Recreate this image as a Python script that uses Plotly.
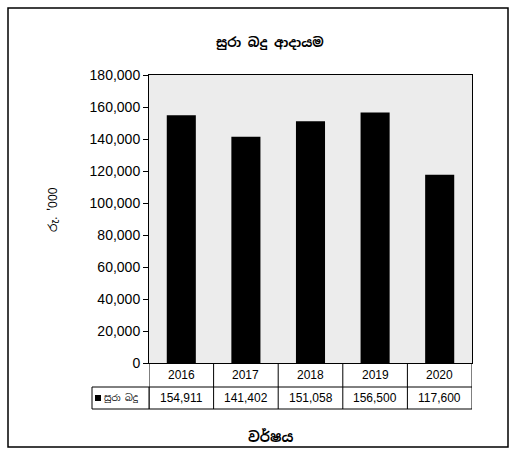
import plotly.graph_objects as go

years = ["2016", "2017", "2018", "2019", "2020"]
revenue = [154911, 141402, 151058, 156500, 117600]
value_labels = ["154,911", "141,402", "151,058", "156,500", "117,600"]
series_name = "සුරා බදු"
title_text = "සුරා බදු ආදායම"
y_title = "රු. '000"
x_title = "වර්ෂය"

FONT = "Liberation Sans, Arial, sans-serif"
SIN = "Noto Sans Sinhala, Liberation Sans, sans-serif"

fig = go.Figure()
fig.add_trace(go.Bar(x=years, y=revenue, name=series_name, width=0.45,
                     marker=dict(color="black", line=dict(width=0)),
                     showlegend=False))

L, R, T, B = 149, 39, 75, 87
W, H = 511, 450
pw, ph = W - L - R, H - T - B

def px_x(p):
    return (p - L) / pw

def px_y(p):
    return (H - B - p) / ph

shapes = []
# table horizontal lines
for yp in [387, 409]:
    shapes.append(dict(type="line", xref="paper", yref="paper", x0=0, x1=1,
                       y0=px_y(yp), y1=px_y(yp), line=dict(color="black", width=1)))
# table vertical lines
for i in range(len(years) + 1):
    shapes.append(dict(type="line", xref="x", yref="paper", x0=i - 0.5, x1=i - 0.5,
                       y0=0, y1=px_y(409), line=dict(color="black", width=1)))
# legend cell
shapes.append(dict(type="rect", xref="paper", yref="paper", x0=px_x(92), x1=0,
                   y0=px_y(409), y1=px_y(387), line=dict(color="black", width=1)))
shapes.append(dict(type="rect", xref="paper", yref="paper", x0=px_x(95), x1=px_x(101),
                   y0=px_y(401), y1=px_y(395), fillcolor="black", line=dict(width=0)))
# outer frame
shapes.append(dict(type="rect", xref="paper", yref="paper", x0=px_x(8), x1=px_x(508),
                   y0=px_y(447), y1=px_y(8), line=dict(color="black", width=1.5)))

numfont = dict(family=FONT, size=12, color="black")
annotations = []
for i, (yr, lab) in enumerate(zip(years, value_labels)):
    annotations.append(dict(x=i, y=px_y(375), xref="x", yref="paper", text=yr,
                            showarrow=False, yanchor="middle", font=numfont))
    annotations.append(dict(x=i, y=px_y(398), xref="x", yref="paper", text=lab,
                            showarrow=False, yanchor="middle", font=numfont))
annotations.append(dict(x=px_x(102), y=px_y(398), xref="paper", yref="paper",
                        text=series_name, showarrow=False, xanchor="left", yanchor="middle",
                        font=dict(family=SIN, size=9, color="black")))
annotations.append(dict(x=px_x(270), y=px_y(42), xref="paper", yref="paper",
                        text="<b>" + title_text + "</b>", showarrow=False, yanchor="middle",
                        font=dict(family=SIN, size=13, color="black")))
annotations.append(dict(x=px_x(270), y=px_y(437), xref="paper", yref="paper",
                        text="<b>" + x_title + "</b>", showarrow=False, yanchor="middle",
                        font=dict(family=SIN, size=14, color="black")))
annotations.append(dict(x=px_x(43), y=px_y(210), xref="paper", yref="paper",
                        text=y_title, showarrow=False, textangle=-90,
                        font=dict(family=SIN, size=12, color="black")))

fig.update_layout(
    width=W, height=H,
    margin=dict(l=L, r=R, t=T, b=B),
    paper_bgcolor="white",
    plot_bgcolor="#ececec",
    font=dict(family=FONT, color="black"),
    shapes=shapes,
    annotations=annotations,
    bargap=0.55,
)
fig.update_xaxes(type="category", range=[-0.5, len(years) - 0.5], showticklabels=False,
                 ticks="", showline=True, linecolor="black", linewidth=1, mirror=True,
                 showgrid=False)
fig.update_yaxes(range=[0, 180000], dtick=20000, tickformat=",", ticks="outside",
                 ticklen=5, tickcolor="black", showline=True, linecolor="black",
                 linewidth=1, mirror=True, showgrid=False, zeroline=False,
                 tickfont=dict(size=14, color="black"))

fig.write_html("out.html", config={"displayModeBar": False},
               post_script="document.body.style.margin='0';document.body.style.overflow='hidden';")
